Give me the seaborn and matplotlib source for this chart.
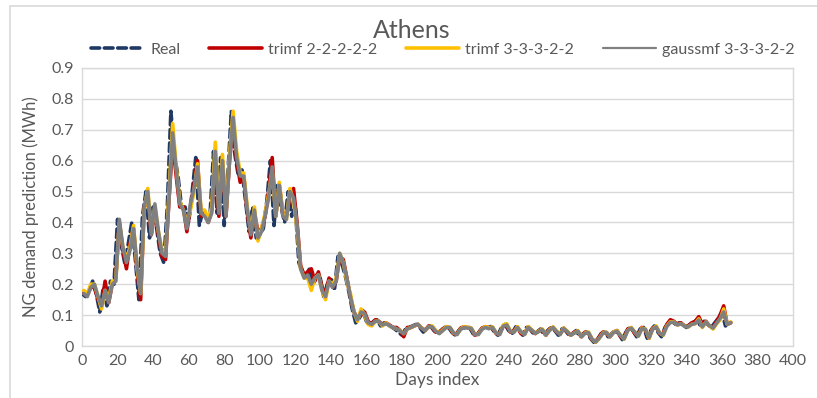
import numpy as np
import pandas as pd
import matplotlib
matplotlib.use("Agg")
import matplotlib.pyplot as plt
import seaborn as sns
from matplotlib.patches import Rectangle

# ---------------- data ----------------
real_days = list(range(0, 366, 2))
pred_days = list(range(1, 366, 2))

real = [
    0.17, 0.16, 0.18, 0.21, 0.17, 0.11, 0.19, 0.13, 0.21, 0.20,
    0.41, 0.33, 0.27, 0.33, 0.40, 0.28, 0.15, 0.42, 0.50, 0.35,
    0.45, 0.38, 0.30, 0.27, 0.45, 0.76, 0.62, 0.55, 0.45, 0.45,
    0.40, 0.50, 0.61, 0.39, 0.44, 0.42, 0.42, 0.63, 0.43, 0.61,
    0.39, 0.55, 0.76, 0.62, 0.55, 0.57, 0.47, 0.37, 0.45, 0.35,
    0.36, 0.38, 0.47, 0.60, 0.39, 0.52, 0.45, 0.40, 0.50, 0.42,
    0.45, 0.27, 0.24, 0.23, 0.25, 0.20, 0.23, 0.22, 0.16, 0.20,
    0.22, 0.18, 0.29, 0.27, 0.23, 0.18, 0.12, 0.075, 0.09, 0.115,
    0.08, 0.065, 0.08, 0.085, 0.065, 0.075, 0.07, 0.062, 0.055, 0.045,
    0.035, 0.055, 0.06, 0.065, 0.07, 0.06, 0.045, 0.06, 0.065, 0.05,
    0.04, 0.05, 0.06, 0.062, 0.045, 0.035, 0.05, 0.06, 0.058, 0.06,
    0.04, 0.035, 0.05, 0.06, 0.055, 0.063, 0.045, 0.035, 0.06, 0.07,
    0.05, 0.04, 0.062, 0.05, 0.035, 0.06, 0.055, 0.04, 0.045, 0.055,
    0.035, 0.05, 0.06, 0.05, 0.035, 0.055, 0.05, 0.035, 0.04, 0.05,
    0.03, 0.04, 0.045, 0.025, 0.012, 0.02, 0.04, 0.045, 0.03, 0.04,
    0.05, 0.04, 0.02, 0.045, 0.06, 0.05, 0.03, 0.055, 0.06, 0.025,
    0.05, 0.065, 0.045, 0.03, 0.06, 0.075, 0.08, 0.07, 0.075, 0.07,
    0.06, 0.07, 0.075, 0.085, 0.065, 0.08, 0.07, 0.06, 0.075, 0.09,
    0.11, 0.065, 0.08,
]

trimf_2 = [
    0.17, 0.17, 0.19, 0.19, 0.15, 0.13, 0.21, 0.14, 0.20, 0.22,
    0.40, 0.31, 0.25, 0.33, 0.38, 0.24, 0.15, 0.45, 0.48, 0.36,
    0.44, 0.36, 0.29, 0.28, 0.48, 0.66, 0.55, 0.45, 0.45, 0.37,
    0.45, 0.52, 0.60, 0.42, 0.43, 0.40, 0.44, 0.60, 0.42, 0.60,
    0.42, 0.60, 0.72, 0.60, 0.53, 0.55, 0.43, 0.35, 0.43, 0.37,
    0.38, 0.42, 0.50, 0.61, 0.42, 0.52, 0.43, 0.42, 0.48, 0.51,
    0.40, 0.26, 0.23, 0.24, 0.25, 0.21, 0.24, 0.19, 0.17, 0.22,
    0.19, 0.21, 0.29, 0.28, 0.22, 0.16, 0.11, 0.09, 0.10, 0.11,
    0.08, 0.07, 0.085, 0.08, 0.07, 0.075, 0.068, 0.06, 0.06, 0.05,
    0.03, 0.06, 0.06, 0.065, 0.07, 0.058, 0.05, 0.065, 0.06, 0.045,
    0.045, 0.055, 0.062, 0.058, 0.04, 0.04, 0.058, 0.062, 0.06, 0.055,
    0.035, 0.04, 0.058, 0.062, 0.06, 0.058, 0.04, 0.04, 0.065, 0.065,
    0.045, 0.05, 0.06, 0.04, 0.04, 0.062, 0.05, 0.04, 0.05, 0.05,
    0.035, 0.055, 0.06, 0.045, 0.04, 0.058, 0.045, 0.035, 0.045, 0.045,
    0.03, 0.045, 0.04, 0.02, 0.015, 0.03, 0.045, 0.04, 0.03, 0.045,
    0.05, 0.03, 0.025, 0.055, 0.058, 0.04, 0.035, 0.06, 0.05, 0.025,
    0.058, 0.062, 0.04, 0.04, 0.07, 0.085, 0.08, 0.07, 0.075, 0.065,
    0.065, 0.075, 0.08, 0.095, 0.07, 0.08, 0.065, 0.06, 0.08, 0.10,
    0.13, 0.07, 0.075,
]

trimf_3 = [
    0.18, 0.17, 0.20, 0.20, 0.16, 0.12, 0.18, 0.15, 0.21, 0.21,
    0.40, 0.32, 0.28, 0.32, 0.39, 0.25, 0.17, 0.44, 0.51, 0.37,
    0.45, 0.37, 0.31, 0.30, 0.50, 0.72, 0.58, 0.47, 0.44, 0.40,
    0.44, 0.50, 0.59, 0.44, 0.44, 0.41, 0.45, 0.66, 0.44, 0.62,
    0.43, 0.62, 0.76, 0.63, 0.56, 0.56, 0.45, 0.37, 0.45, 0.34,
    0.38, 0.43, 0.49, 0.57, 0.42, 0.53, 0.43, 0.41, 0.51, 0.47,
    0.38, 0.25, 0.22, 0.22, 0.18, 0.22, 0.23, 0.18, 0.15, 0.21,
    0.20, 0.22, 0.30, 0.27, 0.21, 0.17, 0.11, 0.08, 0.12, 0.10,
    0.07, 0.065, 0.08, 0.08, 0.065, 0.075, 0.065, 0.06, 0.055, 0.05,
    0.04, 0.055, 0.06, 0.065, 0.07, 0.06, 0.05, 0.062, 0.065, 0.05,
    0.042, 0.052, 0.063, 0.06, 0.042, 0.038, 0.055, 0.063, 0.06, 0.058,
    0.038, 0.038, 0.055, 0.063, 0.058, 0.062, 0.042, 0.038, 0.068, 0.072,
    0.048, 0.045, 0.063, 0.045, 0.038, 0.063, 0.052, 0.042, 0.048, 0.055,
    0.035, 0.052, 0.062, 0.048, 0.038, 0.058, 0.048, 0.035, 0.042, 0.05,
    0.03, 0.042, 0.045, 0.022, 0.012, 0.025, 0.042, 0.045, 0.03, 0.045,
    0.05, 0.035, 0.022, 0.05, 0.06, 0.045, 0.032, 0.058, 0.055, 0.025,
    0.055, 0.065, 0.042, 0.035, 0.065, 0.078, 0.078, 0.068, 0.072, 0.065,
    0.062, 0.07, 0.072, 0.088, 0.06, 0.078, 0.065, 0.055, 0.072, 0.085,
    0.12, 0.07, 0.078,
]

gaussmf_3 = [
    0.17, 0.16, 0.19, 0.20, 0.16, 0.13, 0.18, 0.14, 0.20, 0.21,
    0.41, 0.32, 0.27, 0.31, 0.38, 0.26, 0.17, 0.45, 0.50, 0.36,
    0.46, 0.37, 0.30, 0.29, 0.48, 0.69, 0.57, 0.46, 0.44, 0.38,
    0.46, 0.51, 0.58, 0.43, 0.42, 0.40, 0.43, 0.63, 0.43, 0.60,
    0.42, 0.60, 0.74, 0.61, 0.55, 0.55, 0.44, 0.36, 0.44, 0.35,
    0.37, 0.42, 0.48, 0.58, 0.42, 0.52, 0.42, 0.41, 0.50, 0.48,
    0.39, 0.25, 0.22, 0.23, 0.20, 0.22, 0.23, 0.18, 0.16, 0.21,
    0.19, 0.21, 0.30, 0.27, 0.22, 0.16, 0.11, 0.085, 0.11, 0.105,
    0.075, 0.07, 0.08, 0.08, 0.068, 0.072, 0.066, 0.06, 0.056, 0.048,
    0.04, 0.055, 0.06, 0.066, 0.07, 0.058, 0.05, 0.062, 0.062, 0.048,
    0.04, 0.05, 0.06, 0.06, 0.043, 0.037, 0.054, 0.06, 0.058, 0.057,
    0.037, 0.037, 0.054, 0.06, 0.056, 0.06, 0.042, 0.037, 0.064, 0.068,
    0.047, 0.044, 0.06, 0.046, 0.037, 0.06, 0.052, 0.041, 0.047, 0.053,
    0.035, 0.05, 0.06, 0.047, 0.037, 0.056, 0.047, 0.035, 0.042, 0.048,
    0.03, 0.041, 0.043, 0.022, 0.013, 0.025, 0.041, 0.044, 0.03, 0.043,
    0.048, 0.034, 0.023, 0.05, 0.058, 0.045, 0.032, 0.056, 0.054, 0.027,
    0.054, 0.062, 0.042, 0.036, 0.063, 0.076, 0.077, 0.068, 0.072, 0.064,
    0.062, 0.07, 0.073, 0.084, 0.062, 0.078, 0.066, 0.058, 0.074, 0.09,
    0.11, 0.07, 0.076,
]

series_labels = ["Real", "trimf 2-2-2-2-2", "trimf 3-3-3-2-2", "gaussmf 3-3-3-2-2"]
x_ticks = list(range(0, 401, 20))
y_ticks = [0, 0.1, 0.2, 0.3, 0.4, 0.5, 0.6, 0.7, 0.8, 0.9]
y_tick_labels = ["0", "0.1", "0.2", "0.3", "0.4", "0.5", "0.6", "0.7", "0.8", "0.9"]

# ---------------- style ----------------
sns.set_theme(style="white")
plt.rcParams["font.family"] = ["Lato", "DejaVu Sans"]
text_color = "#595959"
grid_color = "#D9D9D9"

fig = plt.figure(figsize=(8.17, 3.98), dpi=100)
ax = fig.add_axes([82 / 817, 1 - 346 / 398, (793 - 82) / 817, (346 - 68) / 398])

df_real = pd.DataFrame({"day": real_days, "value": real})
df_r2 = pd.DataFrame({"day": pred_days, "value": trimf_2})
df_r3 = pd.DataFrame({"day": pred_days, "value": trimf_3})
df_g3 = pd.DataFrame({"day": pred_days, "value": gaussmf_3})

lw = 2.6
sns.lineplot(data=df_real, x="day", y="value", ax=ax, color="#1F3864", lw=lw,
             label=series_labels[0], zorder=3)
ax.lines[-1].set_dashes((2.4, 1.3))
ax.lines[-1].set_dash_capstyle("round")
sns.lineplot(data=df_r2, x="day", y="value", ax=ax, color="#C00000", lw=lw,
             label=series_labels[1], zorder=4)
sns.lineplot(data=df_r3, x="day", y="value", ax=ax, color="#FFC000", lw=lw,
             label=series_labels[2], zorder=5)
sns.lineplot(data=df_g3, x="day", y="value", ax=ax, color="#808080", lw=lw,
             label=series_labels[3], zorder=6)

ax.set_xlim(0, 400)
ax.set_ylim(0, 0.9)
ax.set_xticks(x_ticks)
ax.set_yticks(y_ticks)
ax.set_yticklabels(y_tick_labels)
ax.tick_params(axis="both", labelsize=11.5, colors=text_color, length=0, pad=6)
ax.yaxis.grid(True, color=grid_color, lw=1)
ax.xaxis.grid(False)
for s in ax.spines.values():
    s.set_color(grid_color)
    s.set_linewidth(1)
ax.set_xlabel("Days index", fontsize=12.5, color=text_color, labelpad=3)
ax.set_ylabel("NG demand prediction (MWh)", fontsize=12, color=text_color, labelpad=9)

fig.text(412 / 817, 1 - 38 / 398, "Athens", ha="center", va="baseline",
         fontsize=18, color=text_color)

leg = ax.legend(loc="center", bbox_to_anchor=(443 / 817, 1 - 50 / 398),
                bbox_transform=fig.transFigure, ncol=4, frameon=False,
                fontsize=11.5, handlelength=3.3, handletextpad=0.4,
                columnspacing=1.8, borderaxespad=0, borderpad=0)
for t in leg.get_texts():
    t.set_color(text_color)
for h in leg.get_lines():
    h.set_linewidth(2.6)
leg.get_lines()[3].set_linewidth(1.6)

fig.patches.append(Rectangle((10 / 817, -0.1), 1.0, 1.1 - 6 / 398,
                             transform=fig.transFigure, fill=False,
                             edgecolor=grid_color, lw=1.2))

fig.savefig("out.png", dpi=100)
